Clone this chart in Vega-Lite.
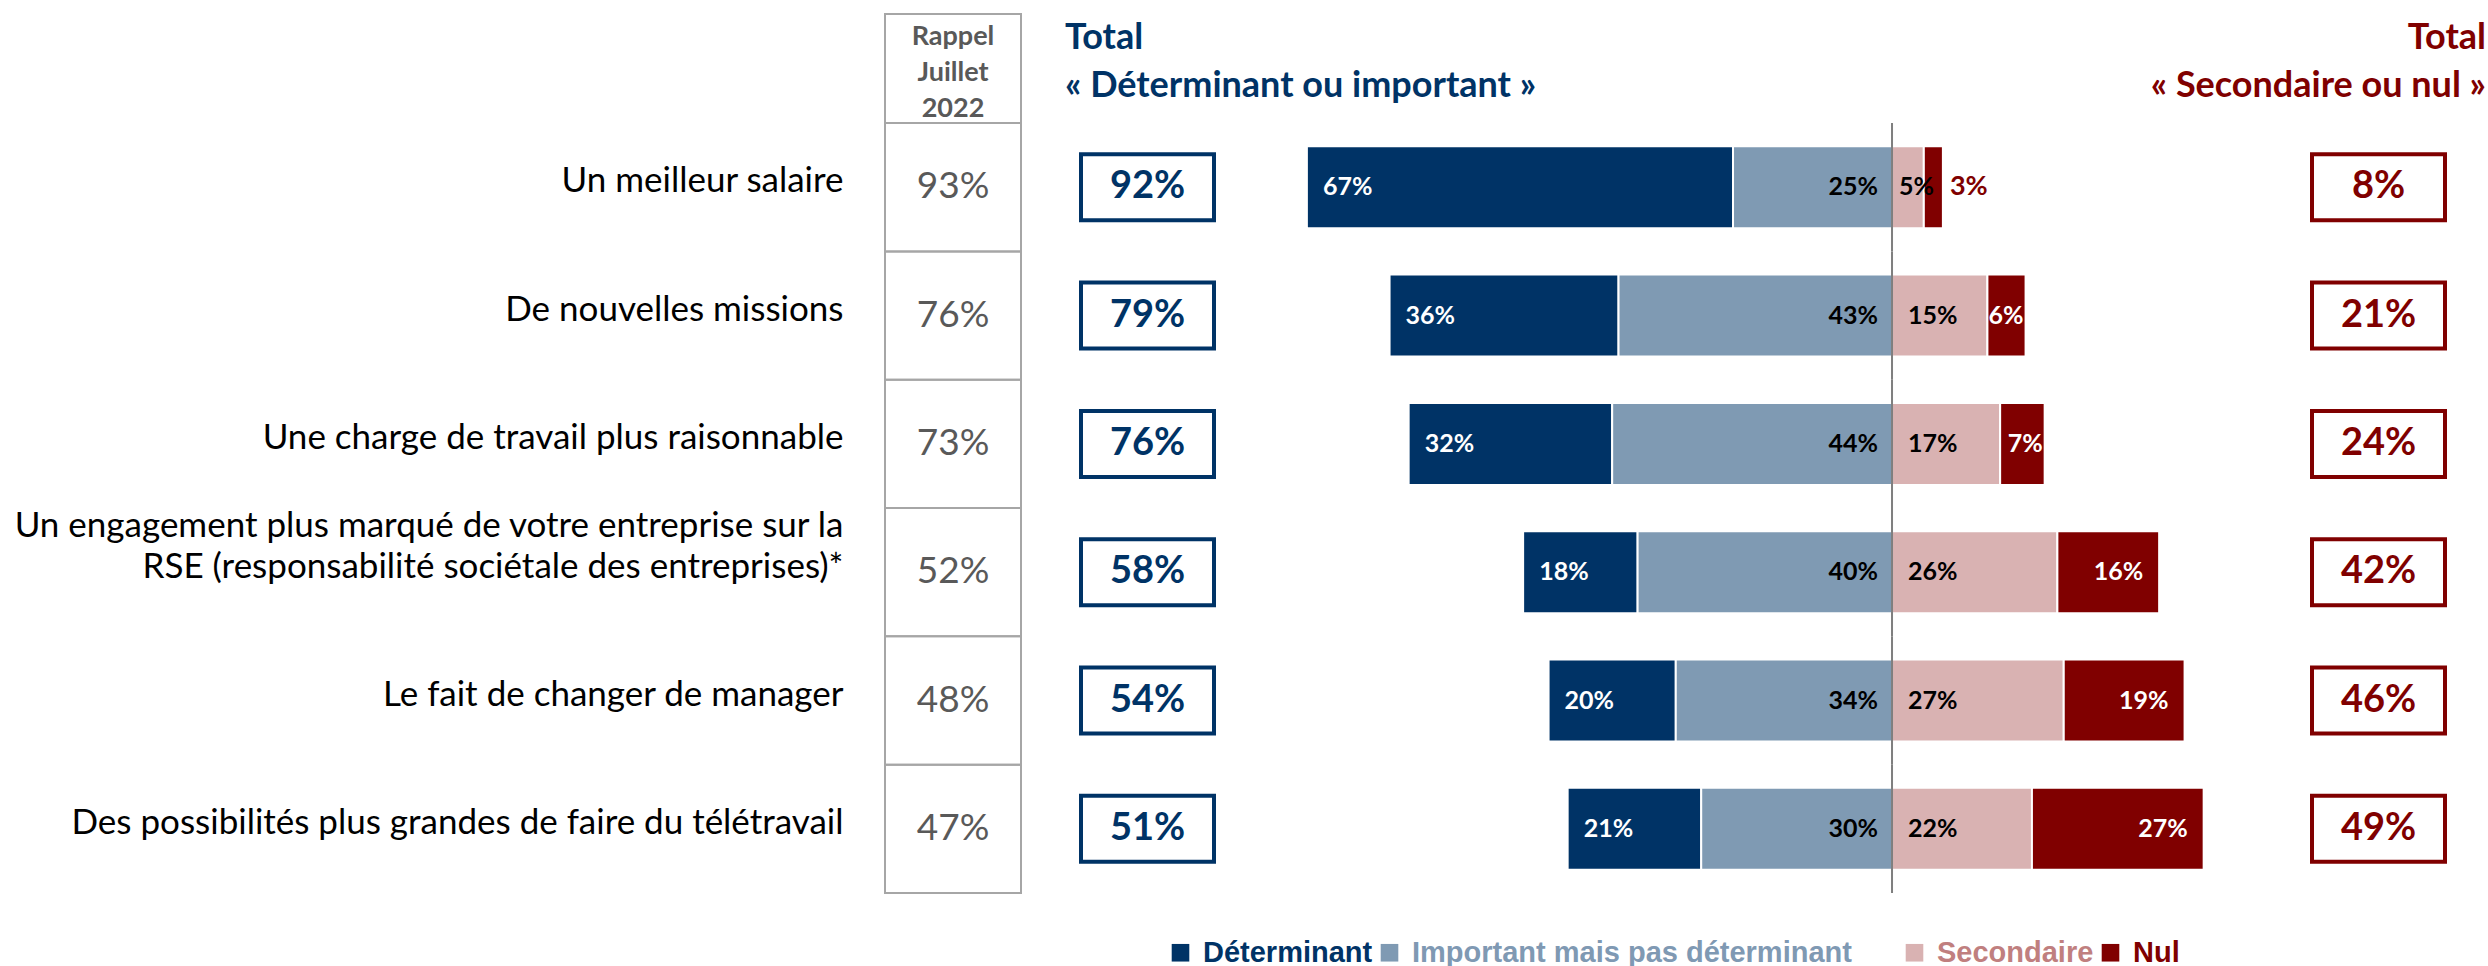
{
  "$schema": "https://vega.github.io/schema/vega-lite/v6.json",
  "padding": {"left": 11, "top": 13, "right": 0, "bottom": 0},
  "autosize": {"type": "pad"},
  "background": "white",
  "bounds": "flush",
  "spacing": 60,
  "config": {"font": "Lato", "view": {"stroke": null}, "axis": {"grid": false}},
  "resolve": {"scale": {"y": "independent", "x": "independent", "color": "independent"}},
  "datasets": {
    "rows": [
      {"cat": "Un meilleur salaire", "rappel": 0.93, "totalDI": 0.92, "totalSN": 0.08},
      {"cat": "De nouvelles missions", "rappel": 0.76, "totalDI": 0.79, "totalSN": 0.21},
      {"cat": "Une charge de travail plus raisonnable", "rappel": 0.73, "totalDI": 0.76, "totalSN": 0.24},
      {"cat": "Un engagement plus marqué de votre entreprise sur la RSE (responsabilité sociétale des entreprises)*", "rappel": 0.52, "totalDI": 0.58, "totalSN": 0.42},
      {"cat": "Le fait de changer de manager", "rappel": 0.48, "totalDI": 0.54, "totalSN": 0.46},
      {"cat": "Des possibilités plus grandes de faire du télétravail", "rappel": 0.47, "totalDI": 0.51, "totalSN": 0.49}
    ],
    "segments": [
      {"cat": "Un meilleur salaire", "type": "Déterminant", "value": 0.67},
      {"cat": "Un meilleur salaire", "type": "Important mais pas déterminant", "value": 0.25},
      {"cat": "Un meilleur salaire", "type": "Secondaire", "value": 0.05},
      {"cat": "Un meilleur salaire", "type": "Nul", "value": 0.03},
      {"cat": "De nouvelles missions", "type": "Déterminant", "value": 0.36},
      {"cat": "De nouvelles missions", "type": "Important mais pas déterminant", "value": 0.43},
      {"cat": "De nouvelles missions", "type": "Secondaire", "value": 0.15},
      {"cat": "De nouvelles missions", "type": "Nul", "value": 0.06},
      {"cat": "Une charge de travail plus raisonnable", "type": "Déterminant", "value": 0.32},
      {"cat": "Une charge de travail plus raisonnable", "type": "Important mais pas déterminant", "value": 0.44},
      {"cat": "Une charge de travail plus raisonnable", "type": "Secondaire", "value": 0.17},
      {"cat": "Une charge de travail plus raisonnable", "type": "Nul", "value": 0.07},
      {"cat": "Un engagement plus marqué de votre entreprise sur la RSE (responsabilité sociétale des entreprises)*", "type": "Déterminant", "value": 0.18},
      {"cat": "Un engagement plus marqué de votre entreprise sur la RSE (responsabilité sociétale des entreprises)*", "type": "Important mais pas déterminant", "value": 0.40},
      {"cat": "Un engagement plus marqué de votre entreprise sur la RSE (responsabilité sociétale des entreprises)*", "type": "Secondaire", "value": 0.26},
      {"cat": "Un engagement plus marqué de votre entreprise sur la RSE (responsabilité sociétale des entreprises)*", "type": "Nul", "value": 0.16},
      {"cat": "Le fait de changer de manager", "type": "Déterminant", "value": 0.20},
      {"cat": "Le fait de changer de manager", "type": "Important mais pas déterminant", "value": 0.34},
      {"cat": "Le fait de changer de manager", "type": "Secondaire", "value": 0.27},
      {"cat": "Le fait de changer de manager", "type": "Nul", "value": 0.19},
      {"cat": "Des possibilités plus grandes de faire du télétravail", "type": "Déterminant", "value": 0.21},
      {"cat": "Des possibilités plus grandes de faire du télétravail", "type": "Important mais pas déterminant", "value": 0.30},
      {"cat": "Des possibilités plus grandes de faire du télétravail", "type": "Secondaire", "value": 0.22},
      {"cat": "Des possibilités plus grandes de faire du télétravail", "type": "Nul", "value": 0.27}
    ]
  },
  "hconcat": [
    {
      "width": 136,
      "height": 879,
      "view": {"stroke": "#a6a6a6", "strokeWidth": 2},
      "title": {"text": ["Rappel", "Juillet", "2022"], "anchor": "middle", "frame": "group", "offset": -109, "color": "#595959", "font": "Lato", "fontSize": 27, "fontWeight": "bold", "lineHeight": 36},
      "data": {"name": "rows"},
      "encoding": {
        "y": {
          "field": "cat", "type": "nominal",
          "sort": ["Un meilleur salaire", "De nouvelles missions", "Une charge de travail plus raisonnable", "Un engagement plus marqué de votre entreprise sur la RSE (responsabilité sociétale des entreprises)*", "Le fait de changer de manager", "Des possibilités plus grandes de faire du télétravail"],
          "scale": {"paddingInner": 0, "paddingOuter": 0.425, "align": 1},
          "axis": {
            "orient": "left", "title": null, "domain": false, "ticks": false, "tickSize": 0, "grid": false,
            "labelPadding": 42, "labelFont": "Lato", "labelFontSize": 35, "labelColor": "#000000", "labelLimit": 2000,
            "labelAlign": "right", "labelBaseline": "middle", "labelLineHeight": 41,
            "labelExpr": "indexof(datum.value, ' RSE') > 0 ? [substring(datum.value, 0, indexof(datum.value, ' RSE')), substring(datum.value, indexof(datum.value, ' RSE') + 1)] : datum.value",
            "labelOffset": {"condition": {"test": "indexof(datum.value, ' RSE') > 0", "value": -46}, "value": -6},
            "minExtent": 812
          }
        }
      },
      "layer": [
        {"mark": {"type": "rect", "filled": false, "stroke": "#a6a6a6", "strokeWidth": 2}},
        {"mark": {"type": "text", "font": "Lato", "fontSize": 37, "color": "#595959"}, "encoding": {"text": {"field": "rappel", "type": "quantitative", "format": ".0%"}}}
      ]
    },
    {
      "width": 133,
      "height": 879,
      "title": {"text": ["Total", "« Déterminant ou important »"], "anchor": "start", "align": "left", "frame": "group", "offset": -91, "dx": -16, "color": "#003366", "font": "Lato", "fontSize": 36, "fontWeight": "bold", "lineHeight": 48},
      "data": {"name": "rows"},
      "encoding": {
        "y": {
          "field": "cat", "type": "nominal",
          "sort": ["Un meilleur salaire", "De nouvelles missions", "Une charge de travail plus raisonnable", "Un engagement plus marqué de votre entreprise sur la RSE (responsabilité sociétale des entreprises)*", "Le fait de changer de manager", "Des possibilités plus grandes de faire du télétravail"],
          "scale": {"paddingInner": 0, "paddingOuter": 0.425, "align": 1},
          "axis": null
        }
      },
      "layer": [
        {"mark": {"type": "bar", "orient": "horizontal", "height": 66, "fill": "white", "stroke": "#003366", "strokeWidth": 4}},
        {"mark": {"type": "text", "font": "Lato", "fontSize": 38, "fontWeight": "bold", "color": "#003366"}, "encoding": {"text": {"field": "totalDI", "type": "quantitative", "format": ".0%"}}}
      ]
    },
    {
      "width": 978,
      "height": 879,
      "data": {"name": "segments"},
      "transform": [
        {"calculate": "datum.type === 'Déterminant' || datum.type === 'Important mais pas déterminant' ? -datum.value : datum.value", "as": "signed"},
        {"stack": "signed", "groupby": ["cat"], "sort": [{"field": "type", "order": "descending"}], "as": ["x0", "x1"]}
      ],
      "encoding": {
        "y": {
          "field": "cat", "type": "nominal",
          "sort": ["Un meilleur salaire", "De nouvelles missions", "Une charge de travail plus raisonnable", "Un engagement plus marqué de votre entreprise sur la RSE (responsabilité sociétale des entreprises)*", "Le fait de changer de manager", "Des possibilités plus grandes de faire du télétravail"],
          "scale": {"paddingInner": 0, "paddingOuter": 0.425, "align": 1},
          "axis": null
        }
      },
      "layer": [
        {
          "mark": {"type": "bar", "orient": "horizontal", "height": 82, "stroke": "white", "strokeWidth": 2},
          "encoding": {
            "x": {"field": "x0", "type": "quantitative", "scale": {"domain": [-0.9717, 0.566], "nice": false, "zero": false}, "axis": null},
            "x2": {"field": "x1"},
            "color": {
              "field": "type", "type": "nominal",
              "scale": {"domain": ["Déterminant", "Important mais pas déterminant", "Secondaire", "Nul"], "range": ["#003366", "#7f9ab3", "#d9b2b2", "#800000"]},
              "legend": {
                "orient": "none", "legendX": -108, "legendY": 924, "direction": "horizontal", "title": null,
                "symbolType": "square", "symbolSize": 310, "symbolStrokeWidth": 0, "symbolOpacity": 1,
                "labelFont": "Liberation Sans", "labelFontSize": 29, "labelFontWeight": "bold", "labelOffset": 8,
                "columnPadding": 2, "labelLimit": 2000,
                "labelColor": {"expr": "datum.value === 'Déterminant' ? '#003366' : datum.value === 'Nul' ? '#800000' : datum.value === 'Secondaire' ? '#c07f7f' : '#7f99b3'"},
                "labelExpr": "datum.value === 'Important mais pas déterminant' ? datum.label + '\u00a0\u00a0\u00a0\u2800' : datum.label"
              }
            }
          }
        },
        {
          "transform": [{"filter": "datum.type === 'Nul'"}],
          "mark": {"type": "bar", "orient": "horizontal", "stroke": "#7f7f7f", "strokeWidth": 2, "fill": "#7f7f7f"},
          "encoding": {"x": {"datum": 0, "type": "quantitative"}, "x2": {"datum": 0}}
        },
        {
          "transform": [{"filter": "datum.type === 'Déterminant'"}],
          "mark": {"type": "text", "align": "left", "baseline": "middle", "dx": 16, "font": "Lato", "fontSize": 25, "fontWeight": "bold", "color": "white"},
          "encoding": {"x": {"field": "x1", "type": "quantitative"}, "text": {"field": "value", "type": "quantitative", "format": ".0%"}}
        },
        {
          "transform": [{"filter": "datum.type === 'Important mais pas déterminant'"}],
          "mark": {"type": "text", "align": "right", "baseline": "middle", "dx": -14, "font": "Lato", "fontSize": 25, "fontWeight": "bold", "color": "black"},
          "encoding": {"x": {"field": "x0", "type": "quantitative"}, "text": {"field": "value", "type": "quantitative", "format": ".0%"}}
        },
        {
          "transform": [{"filter": "datum.type === 'Secondaire' && datum.value >= 0.1"}],
          "mark": {"type": "text", "align": "left", "baseline": "middle", "dx": 16, "font": "Lato", "fontSize": 25, "fontWeight": "bold", "color": "black"},
          "encoding": {"x": {"field": "x0", "type": "quantitative"}, "text": {"field": "value", "type": "quantitative", "format": ".0%"}}
        },
        {
          "transform": [{"filter": "datum.type === 'Secondaire' && datum.value < 0.1"}],
          "mark": {"type": "text", "align": "left", "baseline": "middle", "dx": 7, "font": "Lato", "fontSize": 25, "fontWeight": "bold", "color": "black"},
          "encoding": {"x": {"field": "x0", "type": "quantitative"}, "text": {"field": "value", "type": "quantitative", "format": ".0%"}}
        },
        {
          "transform": [{"filter": "datum.type === 'Nul' && datum.value >= 0.1"}],
          "mark": {"type": "text", "align": "right", "baseline": "middle", "dx": -16, "font": "Lato", "fontSize": 25, "fontWeight": "bold", "color": "white"},
          "encoding": {"x": {"field": "x1", "type": "quantitative"}, "text": {"field": "value", "type": "quantitative", "format": ".0%"}}
        },
        {
          "transform": [{"filter": "datum.type === 'Nul' && datum.value >= 0.05 && datum.value < 0.1"}],
          "mark": {"type": "text", "align": "right", "baseline": "middle", "dx": -2, "font": "Lato", "fontSize": 25, "fontWeight": "bold", "color": "white"},
          "encoding": {"x": {"field": "x1", "type": "quantitative"}, "text": {"field": "value", "type": "quantitative", "format": ".0%"}}
        },
        {
          "transform": [{"filter": "datum.type === 'Nul' && datum.value < 0.05"}],
          "mark": {"type": "text", "align": "left", "baseline": "middle", "dx": 7, "font": "Lato", "fontSize": 27, "fontWeight": "bold", "color": "#800000"},
          "encoding": {"x": {"field": "x1", "type": "quantitative"}, "text": {"field": "value", "type": "quantitative", "format": ".0%"}}
        }
      ]
    },
    {
      "width": 133,
      "height": 879,
      "title": {"text": ["Total", "« Secondaire ou nul »"], "anchor": "end", "align": "right", "frame": "group", "offset": -91, "dx": 41, "color": "#800000", "font": "Lato", "fontSize": 36, "fontWeight": "bold", "lineHeight": 48},
      "data": {"name": "rows"},
      "encoding": {
        "y": {
          "field": "cat", "type": "nominal",
          "sort": ["Un meilleur salaire", "De nouvelles missions", "Une charge de travail plus raisonnable", "Un engagement plus marqué de votre entreprise sur la RSE (responsabilité sociétale des entreprises)*", "Le fait de changer de manager", "Des possibilités plus grandes de faire du télétravail"],
          "scale": {"paddingInner": 0, "paddingOuter": 0.425, "align": 1},
          "axis": null
        }
      },
      "layer": [
        {"mark": {"type": "bar", "orient": "horizontal", "height": 66, "fill": "white", "stroke": "#800000", "strokeWidth": 4}},
        {"mark": {"type": "text", "font": "Lato", "fontSize": 38, "fontWeight": "bold", "color": "#800000"}, "encoding": {"text": {"field": "totalSN", "type": "quantitative", "format": ".0%"}}}
      ]
    }
  ]
}
